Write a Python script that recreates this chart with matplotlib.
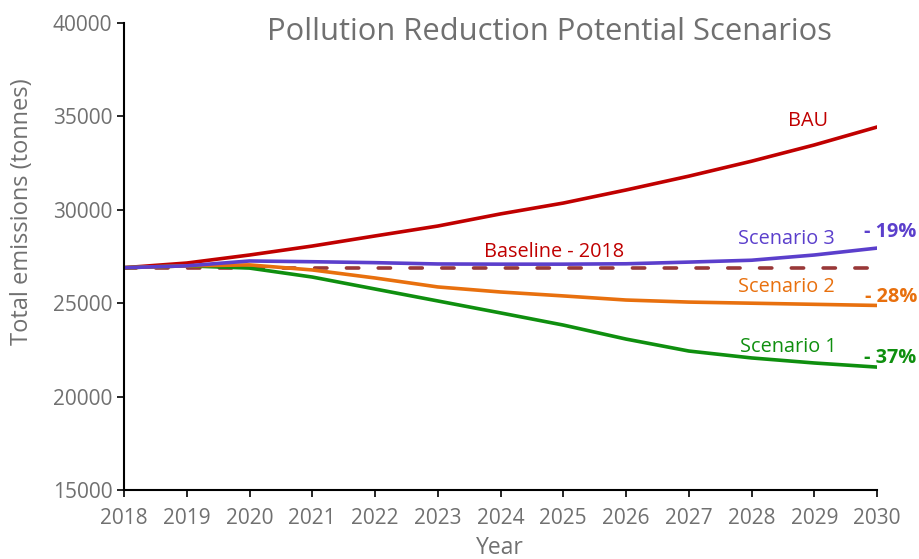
import matplotlib.pyplot as plt

plt.rcParams['font.family'] = ['Open Sans', 'DejaVu Sans']

years = list(range(2018, 2031))
bau = [26900, 27150, 27580, 28060, 28600, 29130, 29780, 30360, 31060, 31800, 32600, 33470, 34430]
scenario_3 = [26900, 27000, 27260, 27220, 27170, 27100, 27090, 27090, 27110, 27200, 27300, 27580, 27950]
scenario_2 = [26900, 27000, 27050, 26780, 26350, 25870, 25600, 25390, 25170, 25060, 25000, 24940, 24880]
scenario_1 = [26900, 27000, 26880, 26400, 25760, 25120, 24480, 23830, 23080, 22440, 22070, 21800, 21580]
baseline = [26900] * len(years)

grey = '#707070'
c_bau = '#C00000'
c_s3 = '#5B3FCC'
c_s2 = '#E8700E'
c_s1 = '#0F8F0F'
c_base = '#993838'

fig = plt.figure(figsize=(9.2, 5.59), dpi=100)
ax = fig.add_axes([0.1348, 0.1234, 0.8185, 0.8355])

ax.plot(years, baseline, color=c_base, lw=2.6, ls=(0, (3.4, 5.4)), dash_capstyle='round')
ax.plot(years, bau, color=c_bau, lw=2.6)
ax.plot(years, scenario_1, color=c_s1, lw=2.6)
ax.plot(years, scenario_2, color=c_s2, lw=2.6)
ax.plot(years, scenario_3, color=c_s3, lw=2.6)

ax.set_xlim(2018, 2030)
ax.set_ylim(15000, 40000)
ax.set_xticks(years)
ax.set_yticks(range(15000, 40001, 5000))
ax.tick_params(colors='black', labelcolor=grey, labelsize=15, length=5, width=1.2)
ax.tick_params(axis='x', pad=8)
for s in ['top', 'right']:
    ax.spines[s].set_visible(False)
for s in ['left', 'bottom']:
    ax.spines[s].set_linewidth(1.5)

fig.text(0.543, 0.02, 'Year', color=grey, fontsize=16.5, ha='center', va='center')
fig.text(0.024, 0.621, 'Total emissions (tonnes)', color=grey, fontsize=17,
         ha='center', va='center', rotation=90)

fig.text(0.597, 0.943, 'Pollution Reduction Potential Scenarios', color=grey,
         fontsize=22.2, ha='center', va='center')

ax.text(2028.90, 34750, 'BAU', color=c_bau, fontsize=14.3, ha='center', va='center')
ax.text(2024.85, 27740, 'Baseline - 2018', color=c_bau, fontsize=14.3, ha='center', va='center')
ax.text(2028.55, 28440, 'Scenario 3', color=c_s3, fontsize=14.3, ha='center', va='center')
ax.text(2028.55, 25870, 'Scenario 2', color=c_s2, fontsize=14.3, ha='center', va='center')
ax.text(2028.58, 22650, 'Scenario 1', color=c_s1, fontsize=14.3, ha='center', va='center')
ax.text(2030.21, 28810, '- 19%', color=c_s3, fontsize=14.3, fontweight='bold', ha='center', va='center', clip_on=False)
ax.text(2030.22, 25330, '- 28%', color=c_s2, fontsize=14.3, fontweight='bold', ha='center', va='center', clip_on=False)
ax.text(2030.21, 22070, '- 37%', color=c_s1, fontsize=14.3, fontweight='bold', ha='center', va='center', clip_on=False)

fig.savefig('out.png', dpi=100)
